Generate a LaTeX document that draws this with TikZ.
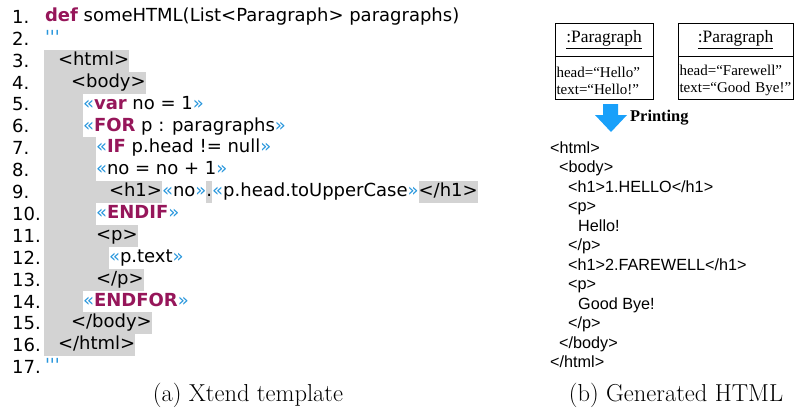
\documentclass[tikz,border=0pt]{standalone}
\usepackage{fontspec}
\usepackage{xcolor}
\usepackage{tikz}
\usetikzlibrary{positioning}

\newfontfamily\codefont[Ligatures=TeXOff]{DejaVu Sans}
\newfontfamily\htmlfont{Liberation Sans}
\newfontfamily\umlfont{Liberation Serif}

\definecolor{tplgray}{RGB}{211,211,211}
\definecolor{xkeyword}{RGB}{150,22,90}
\definecolor{xguil}{RGB}{40,150,220}
\definecolor{printblue}{RGB}{25,160,250}

\newcommand{\xkw}[1]{\textbf{\color{xkeyword}#1}}
\newcommand{\xgl}[1]{\textcolor{xguil}{#1}}

\begin{document}
\begin{tikzpicture}[
    x=1pt, y=-1pt,
    lnum/.style={anchor=west, inner sep=0pt, font=\codefont\fontsize{18}{20}\selectfont},
    seg/.style={anchor=west, inner sep=0pt, outer sep=0pt, minimum height=22.2pt,
        text height=13pt, text depth=3.8pt, font=\codefont\fontsize{18}{20}\selectfont},
    tpl/.style={seg, fill=tplgray},
    xpr/.style={seg},
    umlhead/.style={draw, line width=1pt, outer sep=0pt, minimum height=33pt,
        font=\umlfont\fontsize{17.4}{20}\selectfont},
    umlattr/.style={draw, line width=1pt, outer sep=0pt, inner xsep=1.5pt, inner ysep=0pt,
        minimum height=43pt, align=left, font=\umlfont\fontsize{15}{17}\selectfont},
    htmlline/.style={anchor=west, inner sep=0pt, text height=11.5pt, text depth=3.4pt,
        font=\htmlfont\fontsize{16.2}{19}\selectfont},
    caption/.style={font=\fontsize{24.5}{28}\selectfont}
]
\useasboundingbox (0,0) rectangle (794,407);

% Left side: the template, one line per row
\foreach \i in {1,...,17}
    \node[lnum] (n\i) at (12,{17+21.88*(\i-1)}) {\i.};

\node[xpr] (c1) at (45,17) {\xkw{def} someHTML(List<Paragraph> paragraphs)};
\node[xpr] (c2) at (45,38.9) {\xgl{'''}};
\node[tpl] (c3) at (44,60.8) {\hspace{14pt}<html>};
\node[tpl] (c4) at (44,82.6) {\hspace{27pt}<body>};

\node[tpl, minimum width=39pt] (c5) at (44,104.5) {};
\node[xpr] (c5b) at (c5.east) {\xgl{«}\xkw{var} no = 1\xgl{»}};
\node[tpl, minimum width=39pt] (c6) at (44,126.4) {};
\node[xpr] (c6b) at (c6.east) {\xgl{«}\xkw{FOR} p : paragraphs\xgl{»}};
\node[tpl, minimum width=52pt] (c7) at (44,148.3) {};
\node[xpr] (c7b) at (c7.east) {\xgl{«}\xkw{IF} p.head != null\xgl{»}};
\node[tpl, minimum width=52pt] (c8) at (44,170.2) {};
\node[xpr] (c8b) at (c8.east) {\xgl{«}no = no + 1\xgl{»}};

% heading line: tags on gray, expressions on white
\node[tpl] (c9) at (44,192) {\hspace{65pt}<h1>};
\node[xpr] (c9b) at (c9.east) {\xgl{«}no\xgl{»}};
\node[tpl] (c9c) at (c9b.east) {.};
\node[xpr] (c9d) at (c9c.east) {\xgl{«}p.head.toUpperCase\xgl{»}};
\node[tpl] (c9e) at (c9d.east) {</h1>};

\node[tpl, minimum width=52pt] (c10) at (44,213.9) {};
\node[xpr] (c10b) at (c10.east) {\xgl{«}\xkw{ENDIF}\xgl{»}};
\node[tpl] (c11) at (44,235.8) {\hspace{52pt}<p>};
\node[tpl, minimum width=65pt] (c12) at (44,257.7) {};
\node[xpr] (c12b) at (c12.east) {\xgl{«}p.text\xgl{»}};
\node[tpl] (c13) at (44,279.6) {\hspace{52pt}</p>};
\node[tpl, minimum width=39pt] (c14) at (44,301.4) {};
\node[xpr] (c14b) at (c14.east) {\xgl{«}\xkw{ENDFOR}\xgl{»}};
\node[tpl] (c15) at (44,323.3) {\hspace{27pt}</body>};
\node[tpl] (c16) at (44,345.2) {\hspace{14pt}</html>};
\node[xpr] (c17) at (45,367.1) {\xgl{'''}};

% Right side: the two paragraph objects
\node[umlhead, minimum width=98pt] (para1) at (604,39.5) {\underline{:Paragraph}};
\node[umlattr, text width=95pt, below=0pt of para1] (para1attr)
    {\rule{0pt}{16.5pt}head=“Hello”\\text=“Hello!”};
\node[umlhead, minimum width=115pt] (para2) at (735.5,39.5) {\underline{:Paragraph}};
\node[umlattr, text width=112pt, below=0pt of para2] (para2attr)
    {\rule{0pt}{16.5pt}head=“Farewell”\\text=“Good Bye!”};

% Printing arrow
\fill[printblue] (603,104) -- (618,104) -- (618,115) -- (627,115) -- (611,132)
    -- (595,115) -- (603,115) -- cycle;
\node[anchor=west, inner sep=0pt, font=\umlfont\bfseries\fontsize{16.4}{19}\selectfont]
    (printing) at (630,118) {Printing};

% Generated output
\foreach \ind/\txt [count=\k from 0] in {0/{<html>}, 9/{<body>}, 18/{<h1>1.HELLO</h1>},
        18/{<p>}, 28/{Hello!}, 18/{</p>}, 18/{<h1>2.FAREWELL</h1>}, 18/{<p>},
        28/{Good Bye!}, 18/{</p>}, 9/{</body>}, 0/{</html>}}
    \node[htmlline] (h\k) at ({550+\ind},{149+19.5*\k}) {\txt};

% Labels
\node[caption] (capa) at (248,395) {(a) Xtend template};
\node[caption] (capb) at (676,395) {(b) Generated HTML};

\end{tikzpicture}
\end{document}
